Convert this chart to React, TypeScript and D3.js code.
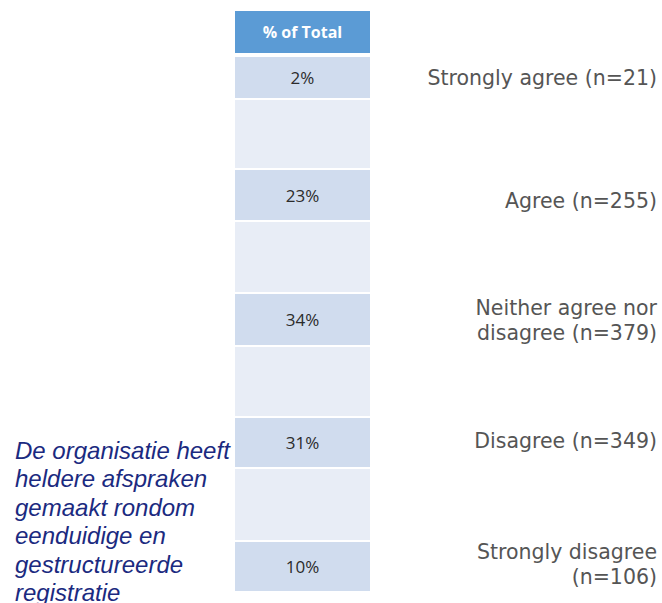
import React from "react";
import * as d3 from "d3";

// ---- data ----
const categories = ["Strongly agree", "Agree", "Neither agree nor disagree", "Disagree", "Strongly disagree"];
const counts = [21, 255, 379, 349, 106];
const shares = [2, 23, 34, 31, 10];
const labelLines = [
  ["Strongly agree (n=21)"],
  ["Agree (n=255)"],
  ["Neither agree nor", "disagree (n=379)"],
  ["Disagree (n=349)"],
  ["Strongly disagree", "(n=106)"],
];
const headerText = "% of Total";
const questionLines = [
  "De organisatie heeft",
  "heldere afspraken",
  "gemaakt rondom",
  "eenduidige en",
  "gestructureerde",
  "registratie",
];

// ---- layout ----
const W = 662;
const H = 603;
const colX0 = 235;
const colX1 = 370;
const headerTop = 11;
const headerBottom = 53;
const rowTops = [57, 170, 294, 418, 542];
const rowBottoms = [98, 220, 345, 467, 591];
const labelCenters = [78, 201, 320.5, 441, 564.5];
const labelRight = 657;

export default function App() {
  const yTop = d3.scaleOrdinal<string, number>().domain(categories).range(rowTops);
  const yBot = d3.scaleOrdinal<string, number>().domain(categories).range(rowBottoms);
  const yLab = d3.scaleOrdinal<string, number>().domain(categories).range(labelCenters);
  const fmt = (v: number) => d3.format("d")(v) + "%";

  const spacers = categories.slice(0, -1).map((c, i) => ({
    y0: yBot(c) + 2,
    y1: yTop(categories[i + 1]) - 2,
  }));

  return (
    <svg
      width={W}
      height={H}
      style={{ position: "absolute", left: 0, top: 0, background: "#fff" }}
    >
      {/* header */}
      <rect x={colX0} y={headerTop} width={colX1 - colX0} height={headerBottom - headerTop} fill="#5B9BD5" />
      <text
        x={(colX0 + colX1) / 2}
        y={(headerTop + headerBottom) / 2}
        textAnchor="middle"
        dominantBaseline="central"
        fill="#fff"
        fontFamily="'Open Sans', 'Noto Sans', sans-serif"
        fontWeight={700}
        fontSize={16}
      >
        {headerText}
      </text>

      {/* spacer rows */}
      {spacers.map((s, i) => (
        <rect key={"s" + i} x={colX0} y={s.y0} width={colX1 - colX0} height={s.y1 - s.y0} fill="#E8EDF6" />
      ))}

      {/* value rows */}
      {categories.map((c, i) => {
        const y0 = yTop(c);
        const y1 = yBot(c);
        return (
          <g key={c}>
            <rect x={colX0} y={y0} width={colX1 - colX0} height={y1 - y0} fill="#D0DCEE" />
            <text
              x={(colX0 + colX1) / 2}
              y={(y0 + y1) / 2}
              textAnchor="middle"
              dominantBaseline="central"
              fill="#2b2b2b"
              fontFamily="'Open Sans', 'Noto Sans', sans-serif"
              fontSize={17}
            >
              {fmt(shares[i])}
            </text>
            {labelLines[i].map((ln, j) => {
              const n = labelLines[i].length;
              const lh = 25;
              const cy = yLab(c) + (j - (n - 1) / 2) * lh;
              return (
                <text
                  key={j}
                  x={labelRight}
                  y={cy}
                  textAnchor="end"
                  dominantBaseline="central"
                  fill="#555555"
                  fontFamily="'DejaVu Sans', Verdana, sans-serif"
                  fontSize={20.5}
                  data-n={counts[i]}
                >
                  {ln}
                </text>
              );
            })}
          </g>
        );
      })}

      {/* question text */}
      {questionLines.map((ln, i) => (
        <text
          key={ln}
          x={15}
          y={450 + i * 28.5}
          dominantBaseline="central"
          fill="#1B2A80"
          fontFamily="'Liberation Sans', Arial, sans-serif"
          fontStyle="italic"
          fontSize={24}
        >
          {ln}
        </text>
      ))}
    </svg>
  );
}
